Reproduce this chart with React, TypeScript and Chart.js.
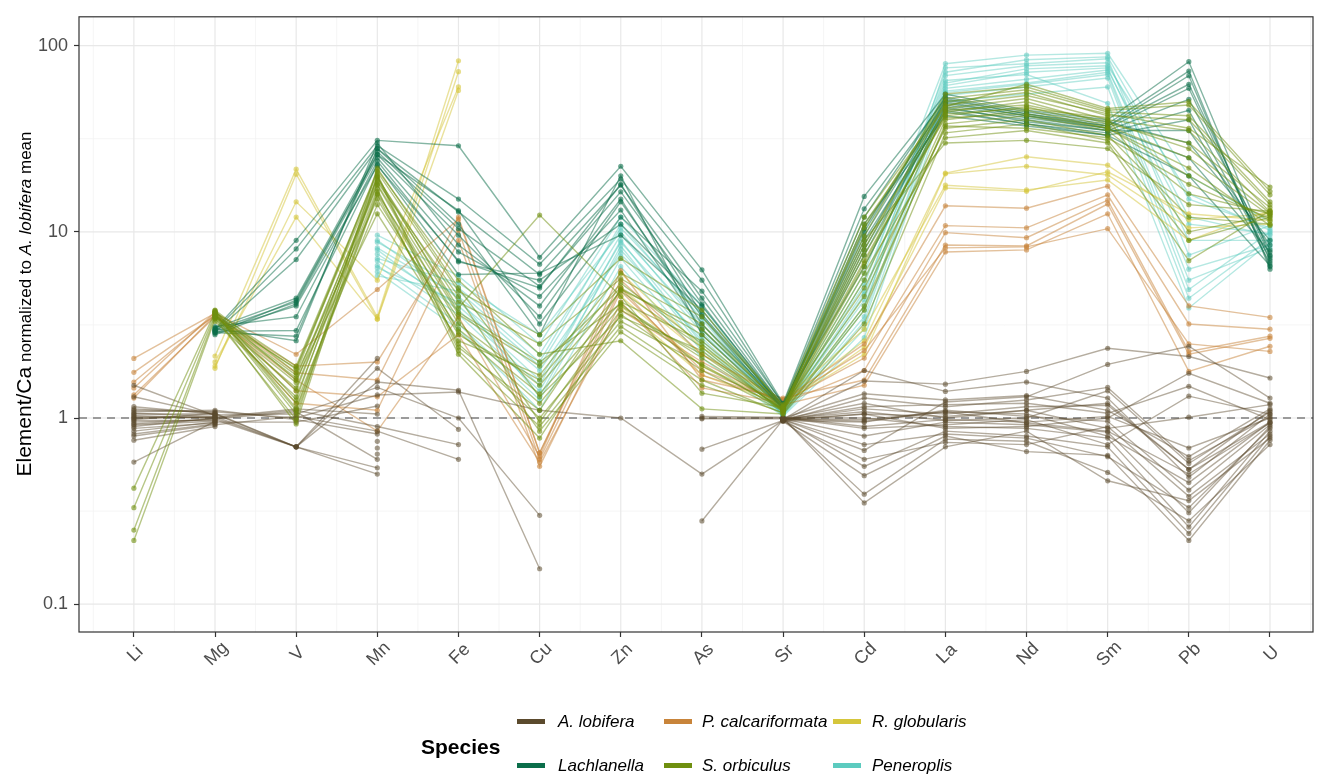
import React, { useEffect, useRef } from "react";
import { Chart, registerables } from "chart.js";

Chart.register(...registerables);

// ---------- data ----------
const ELEMENTS = ["Li", "Mg", "V", "Mn", "Fe", "Cu", "Zn", "As", "Sr", "Cd", "La", "Nd", "Sm", "Pb", "U"];
const Y_TICKS = [0.1, 1, 10, 100];
const SPECIES = ["A. lobifera", "P. calcariformata", "R. globularis", "Lachlanella", "S. orbiculus", "Peneroplis"];
const SPECIES_COLORS = ["#5b4a2d", "#c8843a", "#d5c63b", "#0b6e4a", "#6f8f0f", "#5ccbbf"];

type Row = (number | null)[];
// columns: Li, Mg, V, Mn, Fe, Cu, Zn, As, Sr, Cd, La, Nd, Sm, Pb, U
const A_LOBIFERA: Row[] = [
  [1.00, 1.02, 0.70, 1.85, 0.87, null, null, null, 0.98, 1.05, 1.02, 1.10, 1.20, 0.53, 0.95],
  [0.95, 0.98, 0.70, 2.09, null, null, null, null, 0.97, 1.28, 1.15, 1.25, 1.46, 0.59, 1.02],
  [1.05, 1.05, 0.70, 1.56, 1.41, 0.155, null, null, 0.99, 0.80, 0.95, 0.92, 0.84, 0.31, 0.90],
  [0.90, 1.00, 0.70, 0.54, null, null, null, null, 0.98, 0.67, 1.22, 1.30, 1.94, 2.43, 1.28],
  [1.10, 1.08, 1.00, 1.33, 1.38, 1.10, 1.00, 0.50, 0.97, 1.58, 1.52, 1.78, 2.37, 2.14, 1.64],
  [1.30, 1.04, 1.05, 1.46, 1.00, 0.30, null, null, 0.98, 1.80, 1.39, 1.56, 1.28, 0.48, 1.05],
  [0.85, 0.95, 0.95, 1.16, null, null, null, null, 1.00, 1.00, 0.90, 0.88, 0.78, 0.26, 0.85],
  [1.02, 1.00, 1.10, 0.90, 0.72, null, null, null, 0.98, 0.55, 0.85, 0.80, 0.70, 0.24, 0.80],
  [0.98, 1.06, 0.70, 0.50, null, null, null, null, 0.96, 0.49, 0.80, 0.66, 0.63, 0.22, 0.76],
  [0.80, 0.92, 1.02, 0.85, 0.60, null, null, null, 0.99, 0.39, 0.77, 0.75, 0.51, 0.28, 0.72],
  [1.08, 1.10, 0.98, 0.82, null, null, null, 1.00, 1.00, 0.35, 0.70, 0.85, 0.46, 0.36, 0.78],
  [0.76, 0.90, null, 0.75, null, null, null, 0.68, 0.97, 0.95, 1.10, 1.02, 0.96, 0.41, 0.92],
  [0.58, 0.96, null, 0.69, null, null, null, 0.28, 0.98, 1.12, 1.05, 1.15, 1.17, 0.53, 1.10],
  [1.50, 1.03, null, 0.64, null, null, null, 1.02, 1.01, 0.90, 0.98, 0.95, 1.02, 0.69, 1.00],
  [0.93, 0.99, 1.08, 0.60, null, null, null, 0.99, 0.99, 1.20, 1.00, 1.10, 0.88, 1.01, 1.18],
  [1.00, 1.01, 1.12, 1.05, null, null, null, null, 1.00, 0.88, 0.92, 0.98, 0.72, 1.31, 1.05],
  [0.88, 0.94, null, null, null, null, null, null, 0.98, 1.15, 1.18, 1.20, 1.06, 1.48, 0.98],
  [1.12, 1.07, null, null, null, null, null, null, 0.97, 1.05, 0.88, 0.90, 1.00, 1.74, 1.20],
  [0.97, 0.97, null, null, null, null, null, null, 0.99, 0.96, 1.08, 1.05, 0.80, 0.45, 0.95],
  [1.03, 1.00, null, null, null, null, null, null, 0.98, 0.72, 0.82, 0.78, 0.62, 0.33, 0.88],
  [0.82, 0.93, null, null, null, null, null, null, 0.96, 0.60, 0.74, 0.72, 0.90, 0.38, 0.82],
  [1.15, 1.05, null, null, null, null, null, null, 1.00, 1.35, 1.25, 1.32, 1.10, 0.62, 1.12],
  [0.92, 0.96, null, null, null, null, null, null, 0.98, 0.98, 1.08, 0.94, 0.85, 0.50, 0.94],
  [1.06, 1.02, null, null, null, null, null, null, 0.99, 1.08, 0.97, 1.00, 1.40, 0.57, 1.08],
];

const P_CALCARIFORMATA: Row[] = [
  [2.09, 3.65, 2.20, 4.90, 11.7, 0.65, 5.5, 2.20, 1.25, 2.5, 13.8, 13.4, 17.6, 4.00, 3.47],
  [1.76, 3.55, 1.90, 2.00, 10.2, 0.60, 4.8, 1.80, 1.22, 2.1, 10.8, 10.5, 15.8, 3.20, 3.00],
  [1.56, 3.60, 1.20, 1.10, 9.0, 0.55, 4.2, 1.45, 1.20, 1.8, 9.9, 9.3, 14.8, 2.28, 2.75],
  [1.33, 3.50, 1.60, 0.85, 3.5, 0.62, 6.2, 1.60, 1.28, 1.6, 8.5, 8.4, 14.1, 2.20, 2.68],
  [1.45, 3.70, 1.40, 1.30, 2.8, 0.58, 3.8, 2.00, 1.18, 1.5, 7.8, 8.0, 12.5, 1.78, 2.43],
  [1.28, 3.58, 1.75, 1.60, 12.0, 0.65, 5.0, 1.70, 1.24, 2.3, 8.2, 8.3, 10.4, 2.50, 2.28],
];

const R_GLOBULARIS: Row[] = [
  [null, 2.15, 21.7, 3.5, 83.0, null, 5.0, 2.2, 1.22, 2.6, 20.7, 25.3, 22.8, 11.6, 12.5],
  [null, 1.85, 20.4, 3.4, 72.5, null, 4.5, 1.9, 1.20, 2.2, 20.5, 22.5, 20.2, 10.5, 11.0],
  [null, 1.90, 14.5, 5.5, 60.0, null, 6.0, 2.4, 1.25, 3.0, 17.8, 16.8, 19.0, 9.0, 13.0],
  [null, 2.00, 12.0, 3.4, 57.5, null, 4.0, 1.7, 1.18, 2.4, 17.2, 16.5, 21.0, 12.5, 11.5],
];

const LACHLANELLA: Row[] = [
  [null, 3.00, 9.0, 31.0, 29.0, 7.3, 22.5, 6.25, 1.20, 15.5, 55, 45, 40, 82.0, 7.5],
  [null, 2.95, 8.1, 29.0, 15.0, 6.7, 19.2, 5.5, 1.18, 13.3, 52, 43, 38, 73.0, 6.3],
  [null, 2.90, 7.1, 28.0, 12.8, 5.9, 17.8, 4.4, 1.15, 10.4, 50, 42, 37, 69.0, 6.5],
  [null, 3.05, 4.4, 27.0, 10.4, 5.1, 16.4, 4.1, 1.12, 8.5, 48, 41, 36, 59.0, 7.0],
  [null, 2.85, 4.3, 26.0, 9.6, 3.5, 14.5, 3.5, 1.10, 8.0, 46, 40, 35, 51.5, 8.0],
  [null, 2.80, 4.1, 25.0, 7.8, 4.5, 13.1, 3.0, 1.14, 9.0, 44, 38, 34, 45.0, 7.2],
  [null, 3.10, 3.5, 24.0, 6.9, 5.5, 11.0, 4.0, 1.16, 11.0, 42, 37, 33, 40.0, 6.8],
  [null, 2.92, 2.95, 23.0, 5.9, 6.0, 9.6, 3.8, 1.11, 7.5, 47, 39, 35, 35.0, 8.5],
  [null, 2.88, 2.75, 28.0, 11.0, 2.8, 20.0, 2.8, 1.13, 12.0, 53, 44, 39, 30.0, 9.0],
  [null, 3.02, 2.6, 30.0, 8.5, 4.0, 15.0, 3.2, 1.17, 9.5, 49, 42, 36, 25.0, 7.8],
  [null, 2.98, 4.2, 26.0, 13.0, 3.2, 12.0, 4.8, 1.19, 6.5, 45, 38, 33, 20.0, 6.6],
  [null, 2.93, 4.0, 22.7, 7.0, 5.0, 18.0, 3.6, 1.15, 10.0, 51, 43, 37, 62.0, 7.4],
];

const S_ORBICULUS: Row[] = [
  [0.42, 3.70, 1.90, 21.0, 4.8, 2.8, 7.2, 3.8, 1.15, 9.5, 55, 60, 45, 48, 15.8],
  [0.33, 3.60, 1.83, 19.5, 4.2, 2.5, 5.6, 3.2, 1.12, 8.0, 50, 56, 42, 40, 14.0],
  [0.25, 3.50, 1.64, 18.0, 3.6, 1.9, 5.0, 2.8, 1.10, 6.5, 46, 52, 40, 35, 12.8],
  [0.22, 3.40, 1.45, 17.8, 3.2, 1.5, 4.8, 2.4, 1.08, 5.5, 44, 50, 38, 30, 13.5],
  [null, 3.75, 1.13, 16.5, 2.9, 1.2, 4.0, 2.1, 1.12, 7.0, 42, 47, 37, 25, 12.2],
  [null, 3.65, 1.05, 15.8, 2.5, 1.0, 3.3, 1.95, 1.10, 4.5, 40, 45, 36, 20, 11.5],
  [null, 3.55, 0.93, 20.0, 2.3, 0.9, 3.1, 1.6, 1.06, 3.8, 38, 42, 35, 16, 12.5],
  [null, 3.45, 1.55, 19.0, 3.9, 12.3, 4.5, 1.36, 1.14, 5.0, 36, 40, 33, 12, 11.0],
  [null, 3.80, 1.75, 21.5, 5.5, 2.2, 2.6, 1.12, 1.05, 3.2, 34, 38, 31, 9, 12.0],
  [null, 3.30, 1.30, 17.0, 2.2, 0.78, 3.6, 1.8, 1.09, 6.0, 32, 35, 30, 7, 13.0],
  [null, 3.62, 1.20, 14.0, 3.0, 1.35, 4.2, 2.6, 1.13, 10.5, 52, 58, 44, 42, 14.5],
  [null, 3.72, 1.60, 12.5, 2.6, 1.7, 6.0, 3.5, 1.18, 12.0, 48, 54, 43, 36, 17.4],
  [null, 3.58, 1.40, 18.5, 4.5, 0.95, 3.8, 2.2, 1.11, 8.5, 45, 48, 39, 28, 12.6],
  [null, 3.48, 1.85, 20.5, 2.4, 1.1, 4.9, 3.0, 1.16, 7.5, 41, 43, 36, 22, 10.8],
  [null, 3.68, 1.10, 16.0, 3.4, 0.85, 2.9, 1.5, 1.07, 4.0, 37, 36, 32, 18, 11.8],
  [null, 3.52, 1.70, 15.0, 2.8, 1.6, 5.3, 2.5, 1.10, 9.0, 30, 31, 28, 14, 12.9],
  [null, 3.78, 1.25, 19.8, 3.7, 2.0, 4.1, 1.9, 1.12, 11.0, 47, 62, 46, 50, 16.5],
  [null, 3.42, 0.98, 22.0, 5.0, 1.3, 3.5, 2.3, 1.09, 6.8, 43, 46, 41, 10, 12.3],
];

const PENEROPLIS: Row[] = [
  [null, null, null, 9.6, 5.8, 2.5, 12.0, 4.0, 1.10, 6.0, 80, 89, 91, 20.0, 11.3],
  [null, null, null, 8.8, 5.0, 2.2, 10.5, 3.6, 1.08, 5.2, 72, 84, 87, 15.0, 10.5],
  [null, null, null, 8.2, 4.5, 1.9, 9.6, 3.2, 1.06, 4.6, 69, 78, 81, 12.0, 9.6],
  [null, null, null, 7.6, 4.0, 1.6, 8.8, 2.9, 1.05, 4.0, 61, 72, 76, 9.0, 9.0],
  [null, null, null, 7.0, 3.6, 1.4, 8.0, 2.6, 1.04, 3.5, 57, 63, 72, 6.3, 8.5],
  [null, null, null, 6.6, 3.2, 1.25, 7.2, 2.3, 1.03, 3.0, 54, 60, 67, 4.9, 10.0],
  [null, null, null, 6.1, 3.0, 1.1, 6.5, 2.1, 1.02, 2.7, 50, 55, 60, 4.4, 9.2],
  [null, null, null, 5.8, 4.8, 2.0, 11.0, 3.4, 1.07, 5.5, 65, 70, 49, 3.9, 8.8],
  [null, null, null, 8.0, 3.8, 1.5, 9.0, 2.5, 1.05, 3.8, 76, 80, 85, 7.5, 10.8],
  [null, null, null, 7.2, 5.3, 2.8, 10.0, 3.0, 1.09, 4.3, 59, 66, 74, 11.0, 9.8],
  [null, null, null, 6.4, 4.2, 1.8, 7.6, 2.7, 1.04, 3.3, 56, 62, 70, 5.5, 8.2],
  [null, null, null, 9.0, 4.4, 1.3, 8.4, 2.4, 1.06, 4.8, 63, 75, 78, 16.0, 10.2],
];

// ---------- styling ----------
const FONT = "'Liberation Sans', Arial, Helvetica, sans-serif";
const W = 1317;
const H = 774;

function rgba(hex: string, a: number) {
  const n = parseInt(hex.slice(1), 16);
  return `rgba(${(n >> 16) & 255},${(n >> 8) & 255},${n & 255},${a})`;
}

// drawing order: lower "order" drawn on top
const GROUPS = [
  { rows: A_LOBIFERA, species: 0, order: 2, la: 0.45, pa: 0.55 },
  { rows: P_CALCARIFORMATA, species: 1, order: 3, la: 0.5, pa: 0.6 },
  { rows: R_GLOBULARIS, species: 2, order: 4, la: 0.5, pa: 0.6 },
  { rows: LACHLANELLA, species: 3, order: 1, la: 0.5, pa: 0.6 },
  { rows: S_ORBICULUS, species: 4, order: 0, la: 0.5, pa: 0.6 },
  { rows: PENEROPLIS, species: 5, order: 5, la: 0.45, pa: 0.55 },
];

const decorPlugin = {
  id: "decor",
  beforeDatasetsDraw(chart: any) {
    const { ctx, chartArea: a, scales } = chart;
    const x = scales.x;
    const y = scales.y;
    ctx.save();
    ctx.beginPath();
    ctx.rect(a.left, a.top, a.right - a.left, a.bottom - a.top);
    ctx.clip();
    // minor grid
    ctx.strokeStyle = "#f2f2f2";
    ctx.lineWidth = 0.8;
    for (let i = -1; i <= ELEMENTS.length; i++) {
      const px = x.getPixelForValue(i - 0.5);
      if (px < a.left || px > a.right) continue;
      ctx.beginPath();
      ctx.moveTo(px, a.top);
      ctx.lineTo(px, a.bottom);
      ctx.stroke();
    }
    for (let k = -3; k <= 2; k++) {
      const py = y.getPixelForValue(Math.pow(10, k + 0.5));
      if (py < a.top || py > a.bottom) continue;
      ctx.beginPath();
      ctx.moveTo(a.left, py);
      ctx.lineTo(a.right, py);
      ctx.stroke();
    }
    // major grid
    ctx.strokeStyle = "#e8e8e8";
    ctx.lineWidth = 1.2;
    ELEMENTS.forEach((_, i) => {
      const px = x.getPixelForValue(i);
      ctx.beginPath();
      ctx.moveTo(px, a.top);
      ctx.lineTo(px, a.bottom);
      ctx.stroke();
    });
    Y_TICKS.forEach((v) => {
      const py = y.getPixelForValue(v);
      ctx.beginPath();
      ctx.moveTo(a.left, py);
      ctx.lineTo(a.right, py);
      ctx.stroke();
    });
    // reference line at 1
    const p1 = y.getPixelForValue(1);
    ctx.strokeStyle = "#7f7f7f";
    ctx.lineWidth = 1.3;
    ctx.setLineDash([8, 6]);
    ctx.beginPath();
    ctx.moveTo(a.left, p1);
    ctx.lineTo(a.right, p1);
    ctx.stroke();
    ctx.restore();
  },
  afterDatasetsDraw(chart: any) {
    const { ctx, chartArea: a } = chart;
    ctx.save();
    ctx.strokeStyle = "#333333";
    ctx.lineWidth = 1.2;
    ctx.strokeRect(a.left, a.top, a.right - a.left, a.bottom - a.top);
    ctx.restore();
  },
  afterDraw(chart: any) {
    const { ctx, chartArea: a, scales } = chart;
    const x = scales.x;
    ctx.save();
    // x tick labels, rotated 45 degrees and centred under the ticks
    ctx.fillStyle = "#4d4d4d";
    ctx.font = `18px ${FONT}`;
    ctx.textAlign = "center";
    ctx.textBaseline = "middle";
    ELEMENTS.forEach((lab, i) => {
      const px = x.getPixelForValue(i);
      ctx.save();
      ctx.translate(px + 1.5, a.bottom + 22);
      ctx.rotate(-Math.PI / 4);
      ctx.fillText(lab, 0, 0);
      ctx.restore();
    });
    // y axis title
    const parts = [
      { t: "Element/Ca", f: `21px ${FONT}` },
      { t: " normalized to ", f: `17px ${FONT}` },
      { t: "A. lobifera", f: `italic 17px ${FONT}` },
      { t: " mean", f: `17px ${FONT}` },
    ];
    let total = 0;
    const widths = parts.map((p) => {
      ctx.font = p.f;
      const w = ctx.measureText(p.t).width;
      total += w;
      return w;
    });
    ctx.translate(31, 304);
    ctx.rotate(-Math.PI / 2);
    ctx.fillStyle = "#000000";
    ctx.textAlign = "left";
    ctx.textBaseline = "alphabetic";
    let cx = -total / 2;
    parts.forEach((p, i) => {
      ctx.font = p.f;
      ctx.fillText(p.t, cx, 0);
      cx += widths[i];
    });
    ctx.restore();
  },
};

const LEGEND_POS = [
  { species: 0, sx: 517, tx: 558, cy: 721 },
  { species: 1, sx: 664, tx: 702, cy: 721 },
  { species: 2, sx: 833, tx: 872, cy: 721 },
  { species: 3, sx: 517, tx: 558, cy: 765 },
  { species: 4, sx: 664, tx: 702, cy: 765 },
  { species: 5, sx: 833, tx: 872, cy: 765 },
];

export default function App() {
  const ref = useRef<HTMLCanvasElement | null>(null);

  useEffect(() => {
    if (!ref.current) return;
    const datasets: any[] = [];
    GROUPS.forEach((g) => {
      const col = SPECIES_COLORS[g.species];
      g.rows.forEach((row, r) => {
        datasets.push({
          label: `${SPECIES[g.species]} ${r + 1}`,
          data: row.map((v, i) => ({ x: i, y: v })),
          borderColor: rgba(col, g.la),
          backgroundColor: rgba(col, g.pa),
          pointBackgroundColor: rgba(col, g.pa),
          pointBorderWidth: 0,
          pointRadius: 2.6,
          borderWidth: 1.4,
          tension: 0,
          spanGaps: false,
          order: g.order,
        });
      });
    });

    const chart = new Chart(ref.current, {
      type: "line",
      data: { datasets },
      options: {
        animation: false,
        responsive: false,
        events: [],
        layout: { padding: { top: 14, right: 1, left: 0, bottom: 0 } },
        plugins: { legend: { display: false }, tooltip: { enabled: false }, title: { display: false } },
        scales: {
          x: {
            type: "linear",
            min: -0.676,
            max: 14.53,
            afterBuildTicks: (s: any) => {
              s.ticks = ELEMENTS.map((_, i) => ({ value: i }));
            },
            afterFit: (s: any) => {
              s.height = 142;
            },
            ticks: { display: false },
            grid: {
              display: true,
              drawOnChartArea: false,
              drawTicks: true,
              tickLength: 5,
              color: "rgba(0,0,0,0)",
              tickColor: "#333333",
              tickWidth: 1.2,
            },
            border: { display: false },
          },
          y: {
            type: "logarithmic",
            min: 0.0709,
            max: 142.9,
            afterBuildTicks: (s: any) => {
              s.ticks = Y_TICKS.map((v) => ({ value: v }));
            },
            afterFit: (s: any) => {
              s.width = 79;
            },
            ticks: {
              padding: 6,
              color: "#4d4d4d",
              font: { family: FONT, size: 18 },
              callback: (v: any) => String(v),
            },
            grid: {
              display: true,
              drawOnChartArea: false,
              drawTicks: true,
              tickLength: 5,
              color: "rgba(0,0,0,0)",
              tickColor: "#333333",
              tickWidth: 1.2,
            },
            border: { display: false },
          },
        },
      } as any,
      plugins: [decorPlugin],
    });
    return () => chart.destroy();
  }, []);

  return (
    <div
      style={{
        position: "fixed",
        left: 0,
        top: 0,
        width: W,
        height: H,
        background: "#ffffff",
        fontFamily: FONT,
        overflow: "hidden",
      }}
    >
      <canvas
        ref={ref}
        width={W}
        height={H}
        style={{ position: "absolute", left: 0, top: 0, width: W, height: H, display: "block" }}
      />
      <div
        style={{
          position: "absolute",
          left: 421,
          top: 746,
          transform: "translateY(-50%)",
          fontWeight: "bold",
          fontSize: 21,
          color: "#000",
          lineHeight: 1,
          whiteSpace: "nowrap",
        }}
      >
        Species
      </div>
      {LEGEND_POS.map((p) => (
        <React.Fragment key={p.species}>
          <div
            style={{
              position: "absolute",
              left: p.sx,
              top: p.cy - 2.5,
              width: 28,
              height: 5,
              background: SPECIES_COLORS[p.species],
            }}
          />
          <div
            style={{
              position: "absolute",
              left: p.tx,
              top: p.cy,
              transform: "translateY(-50%)",
              fontStyle: "italic",
              fontSize: 17,
              color: "#000",
              lineHeight: 1,
              whiteSpace: "nowrap",
            }}
          >
            {SPECIES[p.species]}
          </div>
        </React.Fragment>
      ))}
    </div>
  );
}
